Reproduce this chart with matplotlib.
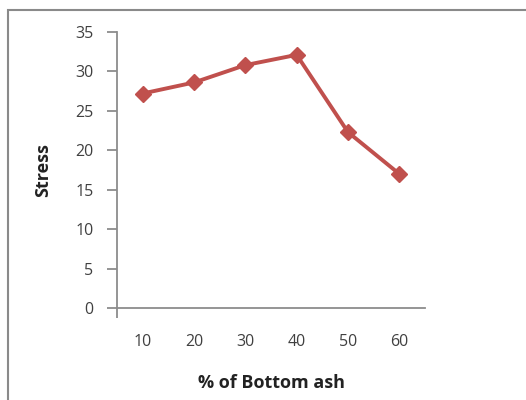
import matplotlib
matplotlib.use("Agg")
import matplotlib.pyplot as plt
from matplotlib.patches import Rectangle

categories = ["10", "20", "30", "40", "50", "60"]
stress = [27.2, 28.6, 30.8, 32.1, 22.3, 17.0]
yticks = [0, 5, 10, 15, 20, 25, 30, 35]

plt.rcParams['font.family'] = ['Open Sans', 'DejaVu Sans']

fig = plt.figure(figsize=(5.26, 4.00), dpi=100)
fig.patch.set_facecolor('white')
fig.patches.append(Rectangle((8/526, -0.2), 1.2, 1.2 - 9.5/400,
                             transform=fig.transFigure, fill=False,
                             edgecolor='#8a8a8a', linewidth=1.5, zorder=0))

ax = fig.add_axes([117/526, 1 - 308/400, 308/526, 276/400])
x = list(range(len(categories)))
ax.plot(x, stress, color='#C0504D', linewidth=2.8, marker='D',
        markersize=8.5, markerfacecolor='#C0504D', markeredgecolor='#C0504D',
        clip_on=False, zorder=3)

ax.set_xlim(-0.5, len(categories) - 0.5)
ax.set_ylim(0, 35)
ax.set_yticks(yticks)
ax.set_yticklabels([str(v) for v in yticks])
ax.set_xticks(x)
ax.set_xticklabels(categories)
ax.set_xticks([-0.5], minor=True)

for s in ['top', 'right']:
    ax.spines[s].set_visible(False)
for s in ['left', 'bottom']:
    ax.spines[s].set_color('#8c8c8c')
    ax.spines[s].set_linewidth(1.3)

ax.tick_params(axis='y', direction='out', length=7, width=1.3, color='#8c8c8c',
               labelsize=11.5, labelcolor='#404040', pad=10)
ax.tick_params(axis='x', which='major', length=0, labelsize=11.5,
               labelcolor='#404040', pad=19)
ax.tick_params(axis='x', which='minor', direction='out', length=7, width=1.3,
               color='#8c8c8c')

ax.set_xlabel('% of Bottom ash', fontsize=13, fontweight='bold', color='#222222')
ax.set_ylabel('Stress', fontsize=13, fontweight='bold', color='#222222')
ax.xaxis.label.set_va('center')
ax.yaxis.label.set_va('center')
ax.xaxis.set_label_coords((271 - 117) / 308, -(383 - 308) / 276)
ax.yaxis.set_label_coords(-(117 - 43) / 308, (308 - 170) / 276)

fig.savefig('out.png', dpi=100, facecolor='white')
